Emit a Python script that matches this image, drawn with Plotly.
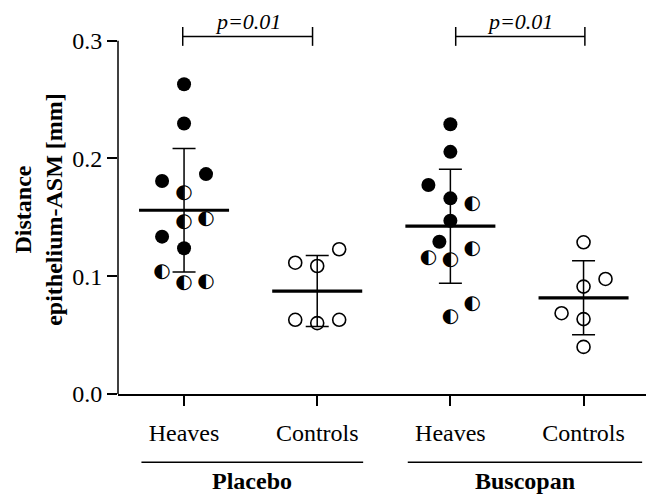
import plotly.graph_objects as go

# ---- data ----
categories = ["Heaves", "Controls", "Heaves", "Controls"]
groups = ["Placebo", "Buscopan"]

placebo_heaves_full = [0.263, 0.2297, 0.1808, 0.1867, 0.1336, 0.1237]
placebo_heaves_half = [0.1703, 0.1458, 0.149, 0.1034, 0.0946, 0.0954]
placebo_controls = [0.1229, 0.1115, 0.1087, 0.063, 0.0602, 0.063]
buscopan_heaves_full = [0.229, 0.2056, 0.1774, 0.1661, 0.1471, 0.1293]
buscopan_heaves_half = [0.161, 0.1231, 0.1153, 0.1138, 0.0765, 0.0658]
buscopan_controls = [0.1288, 0.0977, 0.0912, 0.0686, 0.0636, 0.040]

group_means = [0.156, 0.0874, 0.1425, 0.0817]
group_sd = [0.0525, 0.0301, 0.0484, 0.0314]
p_labels = ["p=0.01", "p=0.01"]
y_tick_vals = [0.0, 0.1, 0.2, 0.3]
y_tick_text = ["0.0", "0.1", "0.2", "0.3"]

# jitter slots (layout, not data)
slot_ph_full = [0, 0, -1, 1, -1, 0]
slot_ph_half = [0, 0, 1, -1, 0, 1]
slot_pc = [1, -1, 0, -1, 0, 1]
slot_bh_full = [0, 0, -1, 0, 0, -0.5]
slot_bh_half = [1, 1, -1, 0, 1, 0]
slot_bc = [0, 1, 0, -1, 0, 0]
STEP = 0.165
MEAN_HALF = 0.338

SERIF = "Liberation Serif"
W, H = 646, 497
ML, MR, MT, MB = 118.3, 0, 22.6, 102.7
XMIN, XMAX = -0.496, 3.469
YMAX = 0.315


def xs(center, slots):
    return [center + s * STEP for s in slots]


fig = go.Figure()

full_style = dict(symbol="circle", size=14, color="black", line=dict(width=0))
open_style = dict(symbol="circle-open", size=13, color="black", line=dict(width=1.6))

# filled dots
for c, vals, sl in [(0, placebo_heaves_full, slot_ph_full), (2, buscopan_heaves_full, slot_bh_full)]:
    fig.add_trace(go.Scatter(x=xs(c, sl), y=vals, mode="markers", marker=full_style,
                             cliponaxis=False, showlegend=False, hoverinfo="skip"))
# half-filled dots (glyph)
for c, vals, sl in [(0, placebo_heaves_half, slot_ph_half), (2, buscopan_heaves_half, slot_bh_half)]:
    fig.add_trace(go.Scatter(x=xs(c, sl), y=vals, mode="text", text=["\u25D0"] * len(vals),
                             textposition="middle center",
                             textfont=dict(family="DejaVu Sans", size=20, color="black"),
                             cliponaxis=False, showlegend=False, hoverinfo="skip"))
# open dots
for c, vals, sl in [(1, placebo_controls, slot_pc), (3, buscopan_controls, slot_bc)]:
    fig.add_trace(go.Scatter(x=xs(c, sl), y=vals, mode="markers", marker=open_style,
                             cliponaxis=False, showlegend=False, hoverinfo="skip"))

# SD error bars
fig.add_trace(go.Scatter(
    x=[0, 1, 2, 3], y=group_means, mode="markers",
    marker=dict(size=1, opacity=0),
    error_y=dict(type="data", array=group_sd, visible=True, color="black", thickness=1.5, width=11.5),
    cliponaxis=False, showlegend=False, hoverinfo="skip"))

# mean lines
mx, my = [], []
for i, m in enumerate(group_means):
    mx += [i - MEAN_HALF, i + MEAN_HALF, None]
    my += [m, m, None]
fig.add_trace(go.Scatter(x=mx, y=my, mode="lines", line=dict(color="black", width=3.2),
                         showlegend=False, hoverinfo="skip"))

shapes = []
# y-axis line from 0 to 0.3
shapes.append(dict(type="line", xref="paper", yref="y", x0=0, x1=0, y0=0, y1=0.3,
                   line=dict(color="black", width=1.5)))
# significance brackets
annotations = []
brackets = [(-0.01, 0.965), (2.04, 3.01)]
yb, dy = 0.3036, 0.008
for (a, b), lab in zip(brackets, p_labels):
    shapes.append(dict(type="line", xref="x", yref="y", x0=a, x1=b, y0=yb, y1=yb,
                       line=dict(color="black", width=1.5)))
    for xx in (a, b):
        shapes.append(dict(type="line", xref="x", yref="y", x0=xx, x1=xx, y0=yb - dy, y1=yb + dy,
                           line=dict(color="black", width=1.5)))
    annotations.append(dict(x=(a + b) / 2, y=yb + 0.0005, xref="x", yref="y", text="<i>" + lab + "</i>",
                            showarrow=False, yanchor="bottom",
                            font=dict(family=SERIF, size=22, color="black")))


def px2paper_x(d):
    return (d - XMIN) / (XMAX - XMIN)


# group underlines + labels
group_spans = [(-0.32, 1.345), (1.68, 3.44)]
line_y = -0.184
for (a, b), g in zip(group_spans, groups):
    shapes.append(dict(type="line", xref="paper", yref="paper", x0=px2paper_x(a), x1=px2paper_x(b),
                       y0=line_y, y1=line_y, line=dict(color="black", width=1.5)))
    annotations.append(dict(x=(a + b) / 2, y=line_y - 0.01, xref="x", yref="paper",
                            text="<b>" + g + "</b>", showarrow=False, yanchor="top",
                            font=dict(family=SERIF, size=24, color="black")))

# y-axis title
annotations.append(dict(x=-0.152, y=0.4985, xref="paper", yref="paper",
                        text="<b>Distance<br>epithelium-ASM [mm]</b>", textangle=-90,
                        showarrow=False, xanchor="center", yanchor="middle",
                        font=dict(family=SERIF, size=24, color="black")))

fig.update_layout(
    width=W, height=H,
    margin=dict(l=ML, r=MR, t=MT, b=MB, pad=0),
    paper_bgcolor="white", plot_bgcolor="white",
    shapes=shapes, annotations=annotations,
    xaxis=dict(range=[XMIN, XMAX], tickvals=[0, 1, 2, 3], ticktext=categories,
               showline=True, linecolor="black", linewidth=1.5, ticks="outside",
               ticklen=10, tickwidth=1.5, tickcolor="black", showgrid=False, zeroline=False,
               tickfont=dict(family=SERIF, size=24, color="black"), ticklabelstandoff=6),
    yaxis=dict(range=[0, YMAX], tickvals=y_tick_vals, ticktext=y_tick_text,
               showline=False, ticks="outside", ticklen=10, tickwidth=1.5, tickcolor="black",
               showgrid=False, zeroline=False,
               tickfont=dict(family=SERIF, size=24, color="black")),
)

fig.write_html("out.html")
